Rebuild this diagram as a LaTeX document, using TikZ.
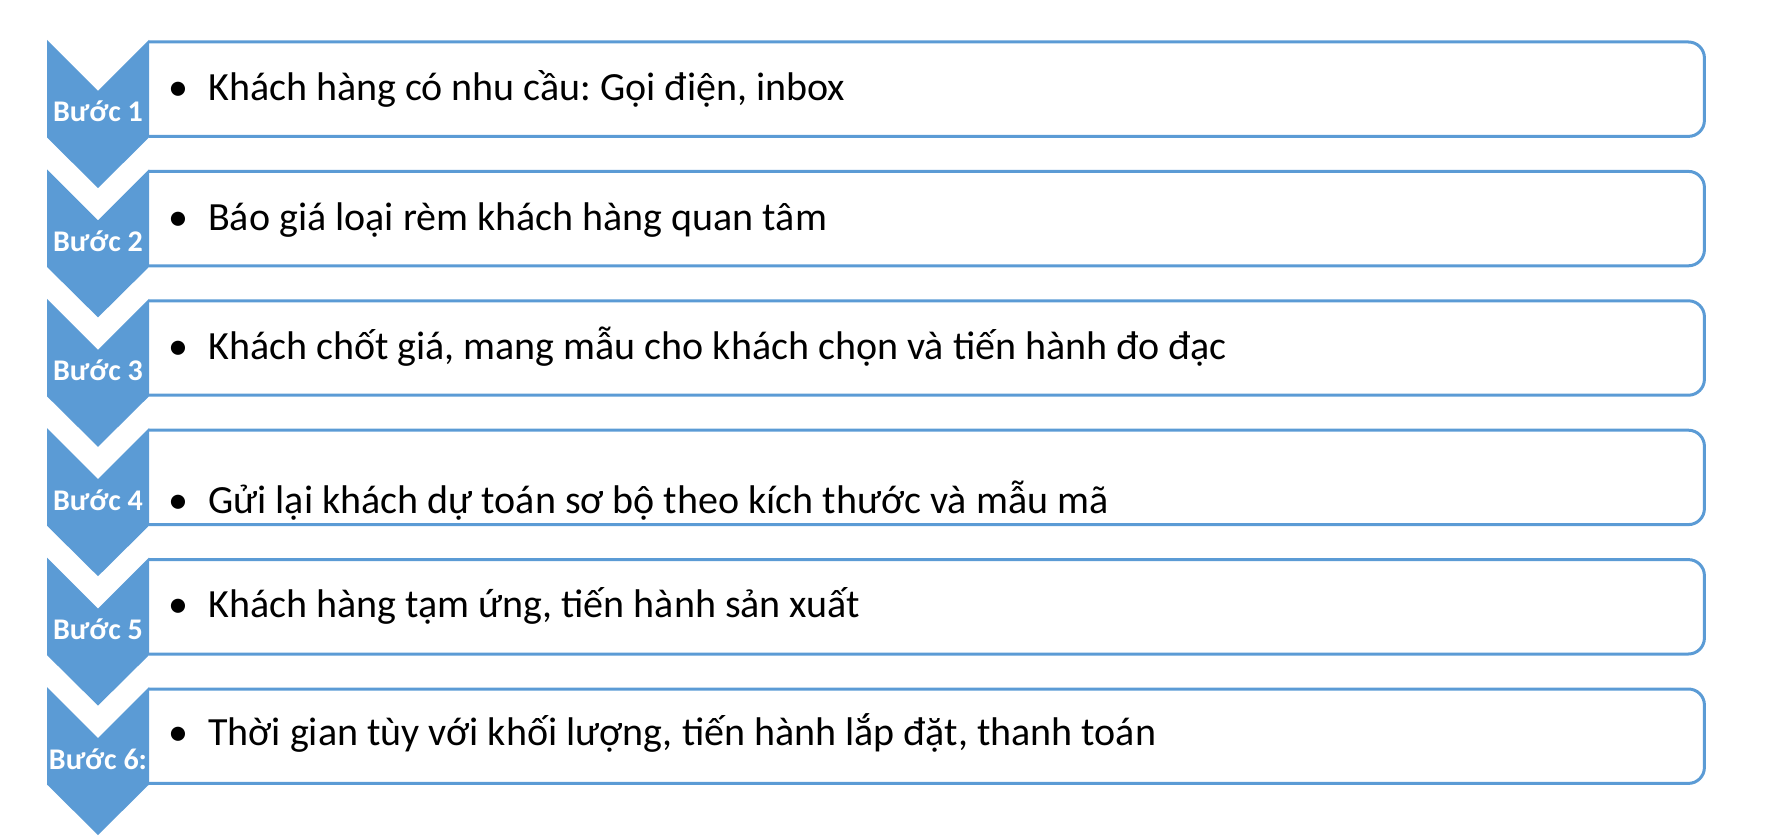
\documentclass[tikz,border=0pt]{standalone}
\usepackage{fontspec}
\setmainfont{Carlito}
\frenchspacing

\begin{document}
\begin{tikzpicture}[x=1pt,y=-1pt,
  stepbox/.style={minimum width=1555pt, minimum height=94pt, inner sep=0pt,
    anchor=north west},
  boxline/.style={draw=stepColor, line width=3pt, rounded corners=16pt},
  steplabel/.style={text=white, inner sep=0pt, anchor=base,
    font=\bfseries\fontsize{30}{34}\selectfont},
  steptext/.style={inner sep=0pt, anchor=base west,
    font=\fontsize{40}{48}\selectfont}]
% Colors
\definecolor{stepColor}{RGB}{91,155,213}
\useasboundingbox (0,0) rectangle (1766,837);
% Boxes
\node[stepbox] (box1) at (149, 42.0) {}; % 1
\node[stepbox] (box2) at (149,171.4) {}; % 2
\node[stepbox] (box3) at (149,300.8) {}; % 3
\node[stepbox] (box4) at (149,430.2) {}; % 4
\node[stepbox] (box5) at (149,559.6) {}; % 5
\node[stepbox] (box6) at (149,689.0) {}; % 6
\begin{scope}[boxline]
	\draw (box1.north west) -- (box1.north east) -- (box1.south east) -- (box1.south west);
	\draw (box2.north west) -- (box2.north east) -- (box2.south east) -- (box2.south west);
	\draw (box3.north west) -- (box3.north east) -- (box3.south east) -- (box3.south west);
	\draw (box4.north west) -- (box4.north east) -- (box4.south east) -- (box4.south west);
	\draw (box5.north west) -- (box5.north east) -- (box5.south east) -- (box5.south west);
	\draw (box6.north west) -- (box6.north east) -- (box6.south east) -- (box6.south west);
\end{scope}
% Chevrons
\begin{scope}[stepColor]
	\fill (47, 40.0) -- (98, 91.0) -- (149, 40.0)
	  -- (149,137.5) -- (98,188.0) -- (47,137.5) -- cycle; % 1
	\fill (47,169.4) -- (98,220.4) -- (149,169.4)
	  -- (149,266.9) -- (98,317.4) -- (47,266.9) -- cycle; % 2
	\fill (47,298.8) -- (98,349.8) -- (149,298.8)
	  -- (149,396.3) -- (98,446.8) -- (47,396.3) -- cycle; % 3
	\fill (47,428.2) -- (98,479.2) -- (149,428.2)
	  -- (149,525.7) -- (98,576.2) -- (47,525.7) -- cycle; % 4
	\fill (47,557.6) -- (98,608.6) -- (149,557.6)
	  -- (149,655.1) -- (98,705.6) -- (47,655.1) -- cycle; % 5
	\fill (47,687.0) -- (98,738.0) -- (149,687.0)
	  -- (149,784.5) -- (98,835.0) -- (47,784.5) -- cycle; % 6
\end{scope}
% Step labels
\node[steplabel] (lab1) at (98,122.0) {Bước 1};
\node[steplabel] (lab2) at (98,251.4) {Bước 2};
\node[steplabel] (lab3) at (98,380.8) {Bước 3};
\node[steplabel] (lab4) at (98,510.2) {Bước 4};
\node[steplabel] (lab5) at (98,639.6) {Bước 5};
\node[steplabel] (lab6) at (98,769.0) {Bước 6:};
% Step texts
\node[steptext] (txt1) at (208,101) {\llap{\textbullet\hspace{20pt}}Khách hàng có nhu cầu: Gọi điện, inbox};
\node[steptext] (txt2) at (208,230) {\llap{\textbullet\hspace{20pt}}Báo giá loại rèm khách hàng quan tâm};
\node[steptext] (txt3) at (208,359) {\llap{\textbullet\hspace{20pt}}Khách chốt giá, mang mẫu cho khách chọn và tiến hành đo đạc};
\node[steptext] (txt4) at (208,513) {\llap{\textbullet\hspace{20pt}}Gửi lại khách dự toán sơ bộ theo kích thước và mẫu mã};
\node[steptext] (txt5) at (208,617) {\llap{\textbullet\hspace{20pt}}Khách hàng tạm ứng, tiến hành sản xuất};
\node[steptext] (txt6) at (208,745) {\llap{\textbullet\hspace{20pt}}Thời gian tùy với khối lượng, tiến hành lắp đặt, thanh toán};
\end{tikzpicture}
\end{document}
